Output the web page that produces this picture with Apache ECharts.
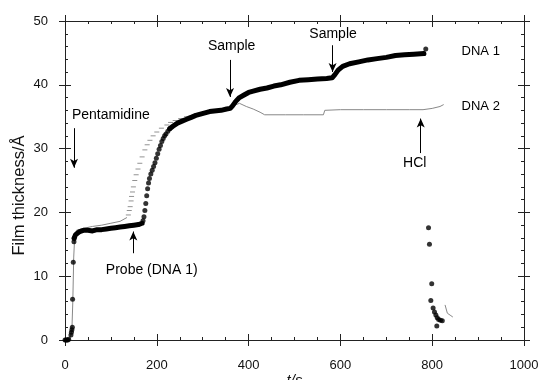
<!DOCTYPE html>
<html><head><meta charset="utf-8">
<script src="https://cdn.jsdelivr.net/npm/echarts@6/dist/echarts.min.js"></script>
<style>html,body{margin:0;padding:0;background:#fff}#c{width:541px;height:380px}</style>
</head><body><div id="c"></div>
<script>
// ---- data ----
const xTickValues = [0, 200, 400, 600, 800, 1000];
const yTickValues = [0, 10, 20, 30, 40, 50];

// DNA 1: discrete dots at start
const dna1StartDots = [[0,0],[2,0],[4,0],[6,0],[8,0.1],[13,0.8],[14,1.2],[15,1.6],[16,2.0],[16.5,6.4],[18,12.2],[19.5,15.4],[20,15.9]];
// DNA 1: dense (thick) plateau part before probe rise
const dna1Plateau1 = [[20,16.0],[23,16.5],[27,16.8],[32,17.0],[40,17.2],[50,17.2],[60,17.1],[70,17.3],[80,17.3],[90,17.4],[100,17.5],[110,17.6],[120,17.7],[130,17.8],[140,17.9],[150,18.0],[160,18.1],[168,18.3]];
// DNA 1: dots during the probe-induced rise
const dna1RiseDots = [[170,18.7],[172,19.3],[174,20.3],[176,21.4],[178,22.6],[180,23.7],[182,24.6],[184,25.3],[187,26.0],[190,26.6],[193,27.2],[196,27.8],[199,28.5],[202,29.2],[205,29.9],[208,30.5],[211,31.1],[214,31.6],[217,32.0],[220,32.3],[224,32.7],[228,33.1]];
// DNA 1: dense part after rise
const dna1Plateau2 = [[228,33.1],[235,33.5],[245,34.0],[255,34.3],[265,34.6],[275,34.9],[285,35.2],[295,35.4],[305,35.6],[315,35.8],[325,35.9],[340,36.0],[352,36.2],[360,36.3],[365,36.7],[372,37.4],[380,38.0],[390,38.4],[400,38.8],[410,39.0],[425,39.3],[440,39.5],[455,39.8],[470,40.0],[490,40.4],[510,40.7],[530,40.8],[550,40.9],[570,41.0],[582,41.1],[588,41.6],[595,42.3],[605,42.9],[620,43.3],[640,43.6],[660,43.9],[680,44.1],[700,44.3],[720,44.6],[740,44.7],[760,44.8],[782,44.9]];
// DNA 1: final dot and drop after HCl
const dna1EndDots = [[786,45.6],[792,17.6],[794,15.0],[799,8.8],[797,6.2],[802,5.0],[805,4.4],[808,3.9],[811,3.5],[814,3.2],[818,3.1],[822,3.0],[810,2.2]];

// DNA 2 (thin grey trace): solid parts
const dna2Line = [[0,0],[10,0],[15,1.5],[17,6],[19,13],[21,16],[25,17.2],[40,17.5],[60,17.8],[80,18.0],[100,18.3],[120,18.6],[135,19.2],null,
  [265,35.0],[280,35.3],[300,35.7],[320,35.9],[340,36.0],[360,36.3],[370,36.8],[380,37.1],[395,36.6],[410,36.2],[425,35.7],[435,35.3],[480,35.3],[520,35.3],[563,35.3],[566,36.0],[600,36.1],[650,36.1],[700,36.1],[750,36.1],[780,36.1],[800,36.3],[817,36.6],[825,36.9],null,
  [828,5.5],[833,4.2],[839,3.9],[845,3.6]];
// DNA 2: dashes during its rise
const dna2RiseDashes = [[138,19.6],[140,20.3],[142,20.9],[144,21.8],[145,22.5],[147,23.2],[149,24.0],[152,25.0],[155,25.9],[159,26.8],[163,27.7],[168,28.7],[174,29.8],[179,30.6],[185,31.3],[192,32.0],[200,32.6],[210,33.2],[222,33.7],[230,34.1],[240,34.4],[252,34.7],[265,35.0]];

// annotation arrows: [x, yFrom, yTo]
const arrows = [[19.6,33.2,27.0],[148.8,13.6,17.0],[359.5,43.9,38.1],[583,46.2,42.0],[775,29.3,34.7]];
// annotation texts: [text, x, y, align]
const notes = [['Pentamidine',15,35.3,'left'],['Probe (DNA 1)',89,11.0,'left'],['Sample',363,46.0,'center'],['Sample',584,48.0,'center'],['HCl',762,27.7,'center'],['DNA 1',864,45.2,'left'],['DNA 2',864,36.6,'left']];

// ---- chart ----
const FONT = 'Liberation Sans, Arial, Helvetica, sans-serif';
const AX = '#222';
const grid = {left:65, right:17, top:21, bottom:40, containLabel:false, outerBoundsMode:'none'};
function xAx(pos, inside, showLabel, minor){
  return {type:'value', min:0, max:1000, interval:200, position:pos, gridIndex:0,
    axisLine:{show:true, onZero:false, lineStyle:{color:AX, width:1}},
    axisTick:{show:true, inside:inside, length:6, lineStyle:{color:AX}},
    minorTick:{show:minor, splitNumber:4, length:3, lineStyle:{color:AX}},
    axisLabel:{show:showLabel, color:'#111', fontSize:13, fontFamily:FONT, margin:19,
      formatter:v=>xTickValues.includes(v)?String(v):''},
    splitLine:{show:false}, minorSplitLine:{show:false}};
}
function yAx(pos, inside, showLabel, minor){
  return {type:'value', min:0, max:50, interval:10, position:pos, gridIndex:0,
    axisLine:{show:true, onZero:false, lineStyle:{color:AX, width:1}},
    axisTick:{show:true, inside:inside, length:6, lineStyle:{color:AX}},
    minorTick:{show:minor, splitNumber:5, length:3, lineStyle:{color:AX}},
    axisLabel:{show:showLabel, color:'#111', fontSize:13, fontFamily:FONT, margin:17,
      formatter:v=>yTickValues.includes(v)?String(v):''},
    splitLine:{show:false}, minorSplitLine:{show:false}};
}
const xAxes = [xAx('bottom',true,true,true), xAx('bottom',false,false,false), xAx('top',true,false,true), xAx('top',false,false,false)];
xAxes[0].name = 't/s';
xAxes[0].nameLocation = 'middle';
xAxes[0].nameGap = 33;
xAxes[0].nameMoveOverlap = false;
xAxes[0].nameTextStyle = {fontFamily:FONT, fontSize:15, fontStyle:'italic', color:'#111'};
const yAxes = [yAx('left',true,true,true), yAx('left',false,false,false), yAx('right',true,false,true), yAx('right',false,false,false)];
yAxes[0].name = 'Film thickness/Å';
yAxes[0].nameLocation = 'middle';
yAxes[0].nameGap = 37;
yAxes[0].nameMoveOverlap = false;
yAxes[0].nameTextStyle = {fontFamily:FONT, fontSize:16.5, color:'#111', padding:[0,30,0,0]};

const dotStyle = {color:'#000'};
const series = [
  {name:'DNA 2', type:'line', data:dna2Line, connectNulls:false, showSymbol:false, symbol:'none',
   lineStyle:{color:'#888', width:1}, z:1, animation:false},
  {name:'DNA 2 rise', type:'scatter', data:dna2RiseDashes, symbol:'rect', symbolSize:[5,1],
   itemStyle:{color:'#777'}, z:1, animation:false},
  {name:'DNA 1 plateau a', type:'line', data:dna1Plateau1, symbol:'none', lineStyle:{color:'#000', width:5, join:'round', cap:'round'}, z:3, animation:false},
  {name:'DNA 1 plateau b', type:'line', data:dna1Plateau2, symbol:'none', lineStyle:{color:'#000', width:5, join:'round', cap:'round'}, z:3, animation:false},
  {name:'DNA 1 dots', type:'scatter', data:[].concat(dna1StartDots, dna1RiseDots, dna1EndDots), symbol:'circle', symbolSize:5, itemStyle:dotStyle, z:4, animation:false},
  {name:'notes', type:'scatter', data:[], animation:false, silent:true,
   markLine:{silent:true, animation:false, symbol:['none','arrow'], symbolSize:[6,9],
     lineStyle:{color:'#000', width:1, type:'solid'}, label:{show:false},
     data: arrows.map(a=>[{coord:[a[0],a[1]]},{coord:[a[0],a[2]]}])},
   markPoint:{silent:true, animation:false, symbol:'circle', symbolSize:0,
     data: notes.map(n=>({coord:[n[1],n[2]], value:n[0],
       label:{show:true, position:'inside', formatter:n[0], align:n[3], verticalAlign:'middle',
         color:'#000', fontFamily:FONT, fontSize:(n[0].startsWith('DNA')?13:14)}}))}}
];

const chart = echarts.init(document.getElementById('c'), null, {renderer:'canvas'});
chart.setOption({
  backgroundColor:'#fff', animation:false,
  grid: grid,
  xAxis: xAxes,
  yAxis: yAxes,
  series: series
});
</script></body></html>
